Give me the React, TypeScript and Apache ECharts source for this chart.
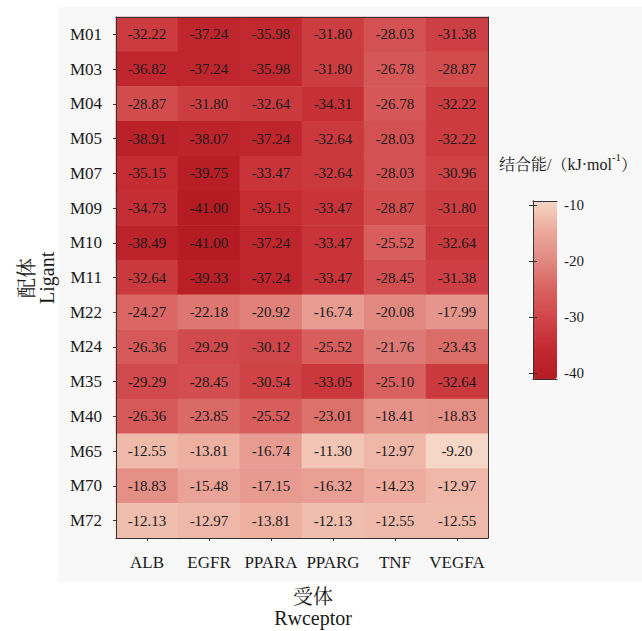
import React, { useEffect, useRef } from "react";
import * as echarts from "echarts";

const receptors = ["ALB", "EGFR", "PPARA", "PPARG", "TNF", "VEGFA"];
const ligands = ["M01", "M03", "M04", "M05", "M07", "M09", "M10", "M11", "M22", "M24", "M35", "M40", "M65", "M70", "M72"];

const ALB = [-32.22, -36.82, -28.87, -38.91, -35.15, -34.73, -38.49, -32.64, -24.27, -26.36, -29.29, -26.36, -12.55, -18.83, -12.13];
const EGFR = [-37.24, -37.24, -31.8, -38.07, -39.75, -41.0, -41.0, -39.33, -22.18, -29.29, -28.45, -23.85, -13.81, -15.48, -12.97];
const PPARA = [-35.98, -35.98, -32.64, -37.24, -33.47, -35.15, -37.24, -37.24, -20.92, -30.12, -30.54, -25.52, -16.74, -17.15, -13.81];
const PPARG = [-31.8, -31.8, -34.31, -32.64, -32.64, -33.47, -33.47, -33.47, -16.74, -25.52, -33.05, -23.01, -11.3, -16.32, -12.13];
const TNF = [-28.03, -26.78, -26.78, -28.03, -28.03, -28.87, -25.52, -28.45, -20.08, -21.76, -25.1, -18.41, -12.97, -14.23, -12.55];
const VEGFA = [-31.38, -28.87, -32.22, -32.22, -30.96, -31.8, -32.64, -31.38, -17.99, -23.43, -32.64, -18.83, -9.2, -12.97, -12.55];

const columns = [ALB, EGFR, PPARA, PPARG, TNF, VEGFA];
const colorbarTicks = [-40, -30, -20, -10];
const scaleMin = -41;
const scaleMax = -9.2;

const FONT = "'Liberation Serif', 'Noto Serif CJK SC', 'Noto Sans CJK SC', serif";
const INK = "#1a1a1a";
const LINE = "#333333";

export default function App() {
  const ref = useRef<HTMLDivElement>(null);

  useEffect(() => {
    if (!ref.current) return;
    const chart = echarts.init(ref.current, undefined, { renderer: "svg" });

    const data: [number, number, number][] = [];
    columns.forEach((col, xi) => {
      col.forEach((v, yi) => data.push([xi, yi, v]));
    });

    const edgeAxis = (extra: any) => ({
      axisLine: { show: true, lineStyle: { color: LINE, width: 1 } },
      axisTick: { show: false },
      axisLabel: { show: false },
      splitLine: { show: false },
      z: 10,
      ...extra,
    });

    chart.setOption({
      animation: false,
      backgroundColor: "#ffffff",
      textStyle: { fontFamily: FONT },
      graphic: [
        {
          type: "rect",
          z: -10,
          silent: true,
          shape: { x: 58, y: 7, width: 584, height: 575 },
          style: { fill: "#f8f8f8" },
        },
        {
          type: "text",
          x: 313,
          y: 586,
          style: {
            text: "受体\nRwceptor",
            fontFamily: FONT,
            fontSize: 20,
            lineHeight: 21,
            fill: INK,
            align: "center",
            verticalAlign: "top",
          },
        },
        {
          type: "text",
          x: 17,
          y: 298,
          rotation: Math.PI / 2,
          style: { text: "配体", fontFamily: FONT, fontSize: 20, fill: INK },
        },
        {
          type: "text",
          x: 37,
          y: 304,
          rotation: Math.PI / 2,
          style: { text: "Ligant", fontFamily: FONT, fontSize: 20, fill: INK },
        },
        {
          type: "text",
          x: 499,
          y: 151,
          style: {
            text: "{a|结合能/（kJ·mol}{s|-1}{a|）}",
            fill: INK,
            rich: {
              a: { fontFamily: FONT, fontSize: 16, lineHeight: 22, fill: INK, verticalAlign: "bottom" },
              s: { fontFamily: FONT, fontSize: 11, lineHeight: 22, fill: INK, verticalAlign: "top" },
            },
          },
        },
      ],
      grid: [
        { left: 116, top: 17, width: 372, height: 521 },
        { left: 533, top: 201, width: 24, height: 178 },
      ],
      xAxis: [
        {
          type: "category",
          gridIndex: 0,
          data: receptors,
          position: "bottom",
          axisLine: { show: true, lineStyle: { color: LINE, width: 1 } },
          axisTick: { show: true, alignWithLabel: true, interval: 0, length: 3, lineStyle: { color: LINE } },
          axisLabel: { interval: 0, fontFamily: FONT, fontSize: 17, color: INK, margin: 16 },
          splitLine: { show: false },
          z: 10,
        },
        edgeAxis({ type: "category", gridIndex: 0, data: receptors, position: "top" }),
        edgeAxis({ type: "value", gridIndex: 1, min: 0, max: 1, position: "bottom" }),
        edgeAxis({ type: "value", gridIndex: 1, min: 0, max: 1, position: "top" }),
      ],
      yAxis: [
        {
          type: "category",
          gridIndex: 0,
          data: ligands,
          inverse: true,
          position: "left",
          axisLine: { show: true, lineStyle: { color: LINE, width: 1 } },
          axisTick: { show: true, alignWithLabel: true, interval: 0, length: 3, lineStyle: { color: LINE } },
          axisLabel: { interval: 0, fontFamily: FONT, fontSize: 17, color: INK, margin: 14 },
          splitLine: { show: false },
          z: 10,
        },
        edgeAxis({ type: "category", gridIndex: 0, data: ligands, inverse: true, position: "right" }),
        {
          type: "value",
          gridIndex: 1,
          min: scaleMin,
          max: scaleMax,
          position: "right",
          axisLine: { show: true, lineStyle: { color: LINE, width: 1 } },
          axisTick: { show: true, inside: true, length: 4, customValues: colorbarTicks, lineStyle: { color: LINE } },
          axisLabel: { show: true, customValues: colorbarTicks, fontFamily: FONT, fontSize: 15, color: INK, margin: 7 },
          splitLine: { show: false },
          z: 10,
        },
        {
          type: "value",
          gridIndex: 1,
          min: scaleMin,
          max: scaleMax,
          position: "left",
          axisLine: { show: true, lineStyle: { color: LINE, width: 1 } },
          axisTick: { show: true, inside: true, length: 4, customValues: colorbarTicks, lineStyle: { color: LINE } },
          axisLabel: { show: false },
          splitLine: { show: false },
          z: 10,
        },
      ],
      visualMap: {
        type: "continuous",
        seriesIndex: 0,
        min: scaleMin,
        max: scaleMax,
        calculable: false,
        orient: "vertical",
        left: 533,
        top: 201,
        itemWidth: 24,
        itemHeight: 178,
        padding: 0,
        text: null,
        showLabel: false,
        inRange: {
          color: ["#b51b23", "#c32930", "#cf4448", "#d8605e", "#e28a82", "#ecaa9c", "#f6d6c6"],
        },
      },
      series: [
        {
          type: "heatmap",
          xAxisIndex: 0,
          yAxisIndex: 0,
          data,
          itemStyle: { borderWidth: 0 },
          label: {
            show: true,
            fontFamily: FONT,
            fontSize: 15,
            color: INK,
            formatter: (p: any) => Number(p.value[2]).toFixed(2),
          },
          emphasis: { disabled: true },
        },
      ],
    });

    return () => chart.dispose();
  }, []);

  return (
    <div
      ref={ref}
      style={{ position: "fixed", left: 0, top: 0, width: 642, height: 631 }}
    />
  );
}
